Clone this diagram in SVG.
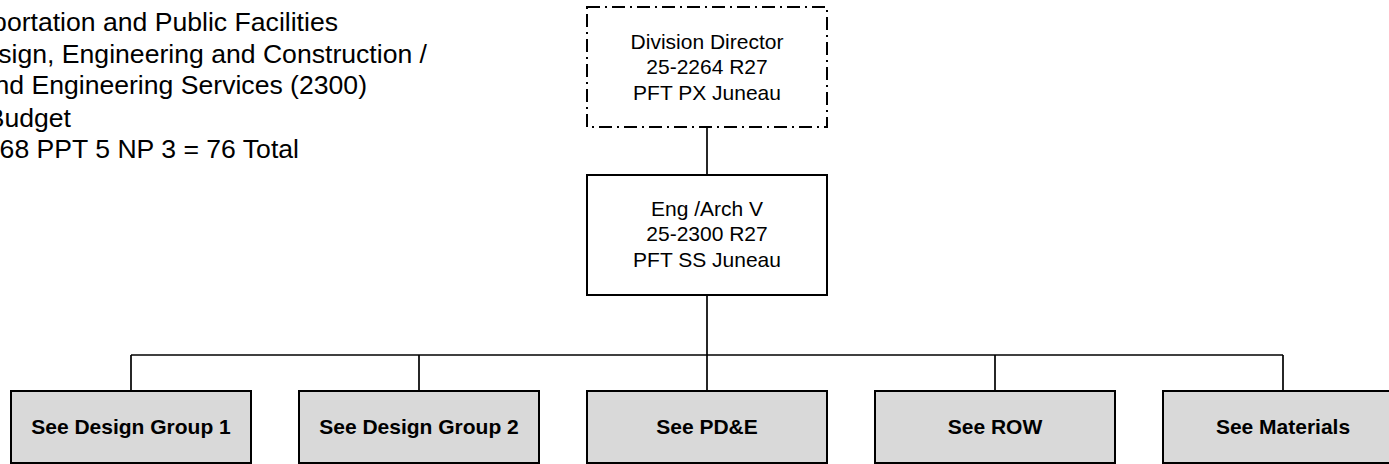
<svg xmlns="http://www.w3.org/2000/svg" width="1389" height="464" viewBox="0 0 1389 464">
<style>
.bg{fill:#ffffff}
.title{font-family:"Liberation Sans",Arial,sans-serif;font-size:26.6px;fill:#000;text-anchor:end}
.t{font-family:"Liberation Sans",Arial,sans-serif;font-size:21px;fill:#000;text-anchor:middle}
.b{font-family:"Liberation Sans",Arial,sans-serif;font-size:21px;font-weight:bold;fill:#000;text-anchor:middle}
.box{fill:#ffffff;stroke:#000;stroke-width:2}
.vac{fill:#ffffff;stroke:#000;stroke-width:2;stroke-dasharray:13 5 2 5}
.grey{fill:#d9d9d9;stroke:#000;stroke-width:2}
.conn{fill:none;stroke:#000;stroke-width:1.7}
</style>
<rect class="bg" x="0" y="0" width="1389" height="464"/>
<g id="title">
<text class="title" x="338" y="31">portation and Public Facilities</text>
<text class="title" x="427" y="62.5">sign, Engineering and Construction /</text>
<text class="title" x="367" y="94">nd Engineering Services (2300)</text>
<text class="title" x="71" y="126.5">Budget</text>
<text class="title" x="299" y="157.5">68 PPT 5 NP 3 = 76 Total</text>
</g>
<g id="connectors">
<line class="conn" x1="707" y1="127" x2="707" y2="175"/>
<line class="conn" x1="707" y1="295" x2="707" y2="391"/>
<line class="conn" x1="131" y1="355" x2="1283" y2="355"/>
<line class="conn" x1="131" y1="355" x2="131" y2="391"/>
<line class="conn" x1="419" y1="355" x2="419" y2="391"/>
<line class="conn" x1="995" y1="355" x2="995" y2="391"/>
<line class="conn" x1="1283" y1="355" x2="1283" y2="391"/>
</g>
<g id="division-director">
<rect class="vac" x="587" y="7" width="240" height="120"/>
<text class="t" x="707" y="48.5">Division Director</text>
<text class="t" x="707" y="74">25-2264 R27</text>
<text class="t" x="707" y="99.5">PFT PX Juneau</text>
</g>
<g id="eng-arch-v">
<rect class="box" x="587" y="175" width="240" height="120"/>
<text class="t" x="707" y="215.5">Eng /Arch V</text>
<text class="t" x="707" y="241">25-2300 R27</text>
<text class="t" x="707" y="266.5">PFT SS Juneau</text>
</g>
<g id="design-group-1">
<rect class="grey" x="11" y="391" width="240" height="72"/>
<text class="b" x="131" y="434">See Design Group 1</text>
</g>
<g id="design-group-2">
<rect class="grey" x="299" y="391" width="240" height="72"/>
<text class="b" x="419" y="434">See Design Group 2</text>
</g>
<g id="pde">
<rect class="grey" x="587" y="391" width="240" height="72"/>
<text class="b" x="707" y="434">See PD&amp;E</text>
</g>
<g id="row">
<rect class="grey" x="875" y="391" width="240" height="72"/>
<text class="b" x="995" y="434">See ROW</text>
</g>
<g id="materials">
<rect class="grey" x="1163" y="391" width="240" height="72"/>
<text class="b" x="1283" y="434">See Materials</text>
</g>
</svg>
